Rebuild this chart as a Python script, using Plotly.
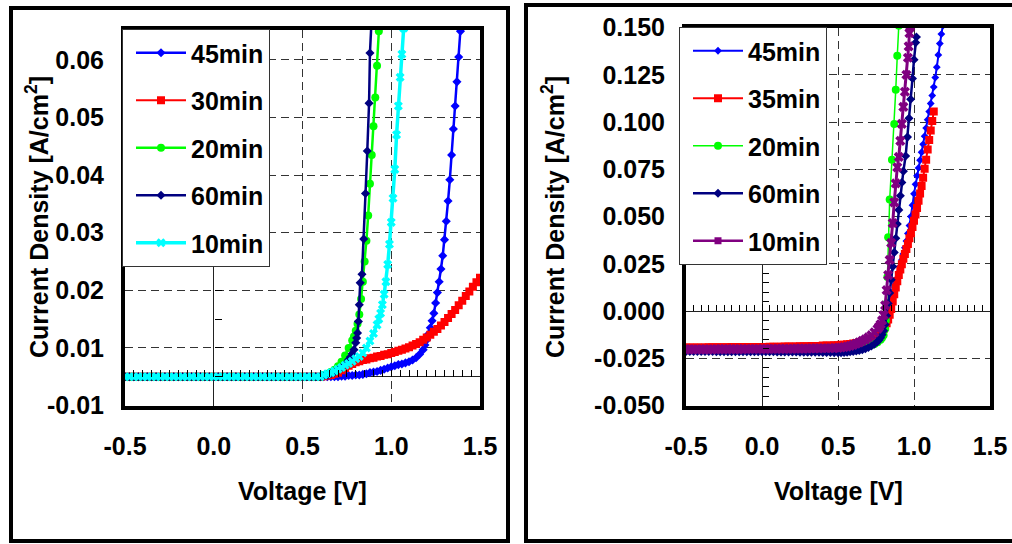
import plotly.graph_objects as go

W, H = 1012, 544

# ---------------- LEFT chart data (Voltage [V], Current density [A/cm2]) ----------------
V_FLAT_L = [-0.500, -0.475, -0.450, -0.425, -0.400, -0.375, -0.350, -0.325, -0.300, -0.275,
            -0.250, -0.225, -0.200, -0.175, -0.150, -0.125, -0.100, -0.075, -0.050, -0.025,
            0.000, 0.025, 0.050, 0.075, 0.100, 0.125, 0.150, 0.175, 0.200, 0.225,
            0.250, 0.275, 0.300, 0.325, 0.350, 0.375, 0.400, 0.425, 0.450, 0.475,
            0.500, 0.525, 0.550, 0.575, 0.600]
J_FLAT_L = [0.0, 0.0, 0.0, 0.0, 0.0, 0.0, 0.0, 0.0, 0.0, 0.0,
            0.0, 0.0, 0.0, 0.0, 0.0, 0.0, 0.0, 0.0, 0.0, 0.0,
            0.0, 0.0, 0.0, 0.0, 0.0, 0.0, 0.0, 0.0, 0.0, 0.0,
            0.0, 0.0, 0.0, 0.0, 0.0, 0.0, 0.0, 0.0, 0.0, 0.0,
            0.0, 0.0, 0.0, 0.0, 0.0]

L45_V = [0.62, 0.64, 0.66, 0.68, 0.70, 0.72, 0.74, 0.76, 0.78, 0.80,
         0.82, 0.84, 0.86, 0.88, 0.90, 0.92, 0.94, 0.96, 0.98, 1.00,
         1.02, 1.04, 1.06, 1.08, 1.10, 1.12, 1.14, 1.16, 1.18,
         1.19, 1.20, 1.21, 1.22, 1.23, 1.24, 1.25, 1.26, 1.27, 1.28,
         1.29, 1.30, 1.31, 1.32, 1.33, 1.34, 1.35, 1.36, 1.37, 1.38, 1.39, 1.395]
L45_J = [0.0000, 0.0000, 0.0000, 0.0000, 0.0000, 0.0001, 0.0001, 0.0002, 0.0002, 0.0003,
         0.0003, 0.0004, 0.0005, 0.0007, 0.0008, 0.0009, 0.0011, 0.0013, 0.0015, 0.0017,
         0.0019, 0.0021, 0.0022, 0.0024, 0.0026, 0.0029, 0.0033, 0.0039, 0.0047,
         0.0055, 0.0064, 0.0074, 0.0085, 0.0097, 0.0110, 0.0128, 0.0146, 0.0165, 0.0187,
         0.0210, 0.0238, 0.0270, 0.0305, 0.0342, 0.0385, 0.0430, 0.0470, 0.0512, 0.0555, 0.0600, 0.0625]

L30_V = [0.62, 0.64, 0.66, 0.68, 0.70, 0.72, 0.74, 0.76, 0.78, 0.80,
         0.82, 0.84, 0.86, 0.88, 0.90, 0.92, 0.94, 0.96, 0.98, 1.00,
         1.02, 1.04, 1.06, 1.08, 1.10, 1.12, 1.14, 1.16, 1.18, 1.20,
         1.22, 1.24, 1.26, 1.28, 1.30, 1.32, 1.34, 1.36, 1.38, 1.40,
         1.42, 1.44, 1.46, 1.48, 1.50]
L30_J = [0.0001, 0.0002, 0.0003, 0.0005, 0.0007, 0.0011, 0.0015, 0.0019, 0.0022, 0.0025,
         0.0027, 0.0029, 0.0030, 0.0032, 0.0033, 0.0035, 0.0036, 0.0038, 0.0039, 0.0041,
         0.0043, 0.0045, 0.0047, 0.0049, 0.0051, 0.0054, 0.0057, 0.0060, 0.0064, 0.0068,
         0.0073, 0.0078, 0.0083, 0.0089, 0.0095, 0.0102, 0.0109, 0.0116, 0.0124, 0.0132,
         0.0140, 0.0148, 0.0156, 0.0164, 0.0172]

L20_V = [0.62, 0.64, 0.66, 0.68, 0.70, 0.72, 0.74, 0.76, 0.78, 0.79,
         0.80, 0.81, 0.82, 0.83, 0.84, 0.85, 0.86, 0.87, 0.88, 0.89,
         0.90, 0.91, 0.92, 0.93, 0.935]
L20_J = [0.0003, 0.0005, 0.0008, 0.0012, 0.0018, 0.0026, 0.0037, 0.0050, 0.0063, 0.0070,
         0.0080, 0.0092, 0.0108, 0.0135, 0.0165, 0.0200, 0.0236, 0.0280, 0.0335, 0.0385,
         0.0435, 0.0485, 0.0540, 0.0600, 0.0625]

L60_V = [0.62, 0.64, 0.66, 0.68, 0.70, 0.72, 0.74, 0.76, 0.77, 0.78,
         0.79, 0.80, 0.805, 0.81, 0.815, 0.82, 0.825, 0.835, 0.845, 0.855,
         0.865, 0.875, 0.88, 0.89]
L60_J = [0.0002, 0.0003, 0.0005, 0.0008, 0.0012, 0.0016, 0.0022, 0.0030, 0.0034, 0.0040,
         0.0047, 0.0059, 0.0067, 0.0076, 0.0096, 0.0125, 0.0163, 0.0178, 0.0239, 0.0318,
         0.0392, 0.0475, 0.0562, 0.0625]

L10_V = [0.62, 0.64, 0.66, 0.68, 0.70, 0.72, 0.74, 0.76, 0.78, 0.80,
         0.82, 0.84, 0.86, 0.88, 0.90, 0.92, 0.93, 0.94, 0.95, 0.96,
         0.97, 0.98, 0.99, 1.00, 1.01, 1.02, 1.03, 1.04, 1.05, 1.06, 1.07]
L10_J = [0.0003, 0.0005, 0.0007, 0.0010, 0.0013, 0.0016, 0.0020, 0.0023, 0.0027, 0.0031,
         0.0035, 0.0041, 0.0050, 0.0062, 0.0075, 0.0090, 0.0100, 0.0110, 0.0125, 0.0143,
         0.0165, 0.0195, 0.0230, 0.0268, 0.0310, 0.0360, 0.0420, 0.0470, 0.0520, 0.0560, 0.0605]

# ---------------- RIGHT chart data ----------------
V_FLAT_R = [-0.500, -0.475, -0.450, -0.425, -0.400, -0.375, -0.350, -0.325, -0.300, -0.275,
            -0.250, -0.225, -0.200, -0.175, -0.150, -0.125, -0.100, -0.075, -0.050, -0.025,
            0.000, 0.025, 0.050, 0.075, 0.100, 0.125, 0.150, 0.175, 0.200, 0.225,
            0.250, 0.275, 0.300, 0.325, 0.350, 0.375, 0.400, 0.425, 0.450, 0.475, 0.500]

R45_JF = [-0.0212, -0.0212, -0.0212, -0.0212, -0.0212, -0.0212, -0.0212, -0.0212, -0.0212, -0.0212,
          -0.0213, -0.0213, -0.0213, -0.0213, -0.0213, -0.0213, -0.0213, -0.0213, -0.0213, -0.0213,
          -0.0214, -0.0214, -0.0214, -0.0214, -0.0214, -0.0214, -0.0214, -0.0214, -0.0214, -0.0214,
          -0.0215, -0.0215, -0.0215, -0.0215, -0.0215, -0.0215,
          -0.0216, -0.0216, -0.0216, -0.0216, -0.0216]
R45_V = [0.52, 0.54, 0.56, 0.58, 0.60, 0.62, 0.64, 0.66, 0.68, 0.70, 0.72, 0.74, 0.76,
         0.77, 0.78, 0.79, 0.80, 0.81, 0.82, 0.83, 0.84, 0.85, 0.86,
         0.87, 0.88, 0.89, 0.90, 0.91, 0.92, 0.93, 0.94, 0.95, 0.96,
         0.97, 0.98, 0.99, 1.00, 1.01, 1.02, 1.03, 1.04, 1.05, 1.06,
         1.07, 1.08, 1.09, 1.10, 1.11, 1.12, 1.13, 1.14, 1.15, 1.16,
         1.17, 1.18, 1.19]
R45_J = [-0.0216, -0.0215, -0.0213, -0.0211, -0.0208, -0.0205, -0.0202, -0.0198, -0.0193, -0.0187, -0.0179, -0.0168, -0.0155,
         -0.0146, -0.0134, -0.0120, -0.0100, -0.0075, -0.0045, -0.0015, 0.0015, 0.0045, 0.0078,
         0.0110, 0.0144, 0.0175, 0.0205, 0.0237, 0.0270, 0.0302, 0.0335, 0.0370, 0.0410,
         0.0452, 0.0500, 0.0560, 0.0620, 0.0670, 0.0715, 0.0757, 0.0798, 0.0840, 0.0882,
         0.0925, 0.0968, 0.1012, 0.1055, 0.1098, 0.1140, 0.1185, 0.1235, 0.1290, 0.1355,
         0.1415, 0.1465, 0.1510]

R35_JF = [-0.0193, -0.0193, -0.0193, -0.0193, -0.0193, -0.0193,
          -0.0192, -0.0192, -0.0192, -0.0192, -0.0192, -0.0192,
          -0.0191, -0.0191, -0.0191, -0.0191, -0.0191,
          -0.0190, -0.0190, -0.0190, -0.0190, -0.0190,
          -0.0189, -0.0189, -0.0189, -0.0189,
          -0.0188, -0.0188, -0.0188, -0.0188,
          -0.0187, -0.0187, -0.0187,
          -0.0185, -0.0185, -0.0185,
          -0.0183, -0.0183, -0.0183,
          -0.0181, -0.0181]
R35_V = [0.52, 0.54, 0.56, 0.58, 0.60, 0.62, 0.64, 0.66, 0.68, 0.70, 0.72, 0.74, 0.76,
         0.77, 0.78, 0.79, 0.80, 0.81, 0.82, 0.83, 0.84, 0.85, 0.86,
         0.87, 0.88, 0.89, 0.90, 0.91, 0.92, 0.93, 0.94, 0.95, 0.96,
         0.97, 0.98, 0.99, 1.00, 1.01, 1.02, 1.03, 1.04, 1.05, 1.06,
         1.07, 1.08, 1.09, 1.10, 1.11, 1.12, 1.13]
R35_J = [-0.0179, -0.0178, -0.0176, -0.0174, -0.0172, -0.0169, -0.0166, -0.0162, -0.0157, -0.0152, -0.0145, -0.0138, -0.0129,
         -0.0123, -0.0115, -0.0106, -0.0095, -0.0082, -0.0065, -0.0045, -0.0020, 0.0010, 0.0050,
         0.0088, 0.0125, 0.0158, 0.0190, 0.0220, 0.0248, 0.0276, 0.0302, 0.0328, 0.0355,
         0.0385, 0.0412, 0.0445, 0.0478, 0.0510, 0.0545, 0.0583, 0.0622, 0.0662, 0.0705,
         0.0752, 0.0800, 0.0855, 0.0905, 0.0955, 0.1005, 0.1055]

R20_JF = [-0.0206, -0.0206, -0.0206, -0.0206, -0.0206, -0.0206, -0.0206, -0.0206, -0.0206, -0.0206,
          -0.0206, -0.0206, -0.0206, -0.0206, -0.0206, -0.0206, -0.0206, -0.0206, -0.0206, -0.0206,
          -0.0205, -0.0205, -0.0205, -0.0205, -0.0205, -0.0205, -0.0205, -0.0205, -0.0205, -0.0205,
          -0.0205, -0.0205, -0.0205, -0.0205, -0.0205, -0.0205, -0.0205, -0.0205, -0.0205, -0.0205,
          -0.0205]
R20_V = [0.52, 0.54, 0.56, 0.58, 0.60, 0.62, 0.64, 0.66, 0.68, 0.70,
         0.72, 0.74, 0.76, 0.78, 0.79, 0.80, 0.81, 0.815, 0.82, 0.825,
         0.83, 0.84, 0.855, 0.87, 0.88, 0.89, 0.90]
R20_J = [-0.0204, -0.0203, -0.0202, -0.0200, -0.0198, -0.0196, -0.0194, -0.0191, -0.0188, -0.0185,
         -0.0180, -0.0175, -0.0166, -0.0152, -0.0142, -0.0128, -0.0095, -0.0050, 0.0040, 0.0180,
         0.0390, 0.0590, 0.0800, 0.0990, 0.1170, 0.1350, 0.1510]

R60_JF = [-0.0214, -0.0214, -0.0214, -0.0214, -0.0214, -0.0214, -0.0214, -0.0214,
          -0.0215, -0.0215, -0.0215, -0.0215, -0.0215, -0.0215, -0.0215, -0.0215,
          -0.0216, -0.0216, -0.0216, -0.0216, -0.0216, -0.0216, -0.0216, -0.0216,
          -0.0217, -0.0217, -0.0217, -0.0217, -0.0217, -0.0217,
          -0.0218, -0.0218, -0.0218, -0.0218, -0.0218, -0.0218,
          -0.0219, -0.0219, -0.0219,
          -0.0220, -0.0220]
R60_V = [0.52, 0.54, 0.56, 0.58, 0.60, 0.62, 0.64, 0.66, 0.68, 0.70, 0.72, 0.74, 0.76,
         0.77, 0.78, 0.79, 0.80, 0.81, 0.82, 0.83, 0.84, 0.85, 0.86,
         0.87, 0.88, 0.89, 0.90, 0.91, 0.92, 0.93, 0.945, 0.957, 0.967,
         0.978, 0.99, 1.00, 1.011, 1.016]
R60_J = [-0.0220, -0.0219, -0.0218, -0.0216, -0.0214, -0.0212, -0.0209, -0.0205, -0.0200, -0.0193, -0.0185, -0.0175, -0.0162,
         -0.0153, -0.0141, -0.0126, -0.0105, -0.0072, -0.0025, 0.0040, 0.0095, 0.0165, 0.0235,
         0.0310, 0.0385, 0.0460, 0.0535, 0.0610, 0.0680, 0.0740, 0.0820, 0.0920, 0.1020,
         0.1120, 0.1230, 0.1330, 0.1420, 0.1450]

R10_JF = [-0.0203, -0.0203, -0.0203, -0.0203, -0.0203, -0.0203, -0.0203, -0.0203,
          -0.0202, -0.0202, -0.0202, -0.0202, -0.0202, -0.0202, -0.0202, -0.0202,
          -0.0201, -0.0201, -0.0201, -0.0201, -0.0201, -0.0201, -0.0201,
          -0.0200, -0.0200, -0.0200, -0.0200, -0.0200, -0.0200,
          -0.0199, -0.0199, -0.0199, -0.0199,
          -0.0198, -0.0198, -0.0198,
          -0.0197, -0.0197,
          -0.0196, -0.0196,
          -0.0195]
R10_V = [0.52, 0.54, 0.56, 0.58, 0.60, 0.62, 0.64, 0.66, 0.68, 0.70, 0.72, 0.74, 0.76,
         0.77, 0.78, 0.79, 0.80, 0.81, 0.82, 0.83, 0.84, 0.85, 0.86,
         0.87, 0.88, 0.89, 0.90, 0.91, 0.92, 0.93, 0.94, 0.95, 0.96,
         0.965, 0.97, 0.975]
R10_J = [-0.0193, -0.0191, -0.0188, -0.0184, -0.0179, -0.0173, -0.0166, -0.0158, -0.0150, -0.0140, -0.0128, -0.0113, -0.0095,
         -0.0084, -0.0070, -0.0050, -0.0022, 0.0030, 0.0110, 0.0190, 0.0270, 0.0360, 0.0465,
         0.0575, 0.0675, 0.0760, 0.0815, 0.0900, 0.0990, 0.1080, 0.1160, 0.1250, 0.1340,
         0.1400, 0.1470, 0.1505]

# ---------------- ticks ----------------
X_TICKS = [-0.5, 0.0, 0.5, 1.0, 1.5]
X_TICKTEXT = ["-0.5", "0.0", "0.5", "1.0", "1.5"]
L_Y_TICKS = [-0.005, 0.005, 0.015, 0.025, 0.035, 0.045, 0.055]
L_Y_TICKTEXT = ["-0.01", "0.01", "0.02", "0.03", "0.04", "0.05", "0.06"]
R_Y_TICKS = [-0.05, -0.025, 0.0, 0.025, 0.05, 0.075, 0.10, 0.125, 0.15]
R_Y_TICKTEXT = ["-0.050", "-0.025", "0.000", "0.025", "0.050", "0.075", "0.100", "0.125", "0.150"]

LEFT_NAMES = ["45min", "30min", "20min", "60min", "10min"]
RIGHT_NAMES = ["45min", "35min", "20min", "60min", "10min"]

for a, b in [(V_FLAT_L, J_FLAT_L), (L45_V, L45_J), (L30_V, L30_J), (L20_V, L20_J), (L60_V, L60_J),
             (L10_V, L10_J), (V_FLAT_R, R45_JF), (V_FLAT_R, R35_JF), (V_FLAT_R, R20_JF),
             (V_FLAT_R, R60_JF), (V_FLAT_R, R10_JF), (R45_V, R45_J), (R35_V, R35_J),
             (R20_V, R20_J), (R60_V, R60_J), (R10_V, R10_J)]:
    assert len(a) == len(b), (len(a), len(b))

# ---------------- geometry helpers ----------------
def fx(p):
    return p / W


def fy(p):
    return 1 - p / H


L_XDOM = [fx(125), fx(480)]
L_YDOM = [fy(405.5), fy(30)]
R_XDOM = [fx(686), fx(990)]
R_YDOM = [fy(405.5), fy(27.5)]
L_XR = [-0.5, 1.5]
L_YR = [-0.005, 0.0602]
R_XR = [-0.5, 1.5]
R_YR = [-0.05, 0.15]


def ypos(dom, rng, v):
    return dom[0] + (v - rng[0]) / (rng[1] - rng[0]) * (dom[1] - dom[0])


FONT_FAMILY = "Liberation Sans, Arial, sans-serif"
FS = 25
BOLD = dict(family=FONT_FAMILY, size=FS, color="black", weight="bold")

fig = go.Figure()


def add(xs, ys, name, color, symbol, msize, lw, xa, ya, legend, group, showlegend=True):
    fig.add_trace(go.Scatter(
        x=xs, y=ys, mode="lines+markers", name=name,
        line=dict(color=color, width=lw),
        marker=dict(symbol=symbol, size=msize, color=color, line=dict(width=0)),
        xaxis=xa, yaxis=ya, legend=legend, legendgroup=group,
        showlegend=showlegend, hoverinfo="skip"))


# left traces
add(V_FLAT_L + L45_V, J_FLAT_L + L45_J, LEFT_NAMES[0], "#0000FF", "diamond", 7, 2.5, "x", "y", "legend", "l1")
add(V_FLAT_L + L30_V, J_FLAT_L + L30_J, LEFT_NAMES[1], "#FF0000", "square", 8, 2, "x", "y", "legend", "l2")
add(V_FLAT_L + L20_V, J_FLAT_L + L20_J, LEFT_NAMES[2], "#00FF00", "circle", 8, 2.5, "x", "y", "legend", "l3")
add(V_FLAT_L + L60_V, J_FLAT_L + L60_J, LEFT_NAMES[3], "#000080", "diamond", 7, 2.5, "x", "y", "legend", "l4")
add(V_FLAT_L + L10_V, J_FLAT_L + L10_J, LEFT_NAMES[4], "#00FFFF", "x", 8, 3.5, "x", "y", "legend", "l5")

# right traces
add(V_FLAT_R + R45_V, R45_JF + R45_J, RIGHT_NAMES[0], "#0000FF", "diamond", 6, 2, "x2", "y2", "legend2", "r1")
add(V_FLAT_R + R35_V, R35_JF + R35_J, RIGHT_NAMES[1], "#FF0000", "square", 8, 2, "x2", "y2", "legend2", "r2")
add(V_FLAT_R + R20_V, R20_JF + R20_J, RIGHT_NAMES[2], "#00FF00", "circle", 8, 1.5, "x2", "y2", "legend2", "r3")
add(V_FLAT_R + R60_V, R60_JF + R60_J, RIGHT_NAMES[3], "#000080", "diamond", 7, 2.5, "x2", "y2", "legend2", "r4")
add(V_FLAT_R + R10_V, R10_JF + R10_J, RIGHT_NAMES[4], "#800080", "x", 9, 3, "x2", "y2", "legend2", "r5",
    showlegend=False)
# legend entry for 10min (square marker in the legend)
fig.add_trace(go.Scatter(x=[None], y=[None], mode="lines+markers", name=RIGHT_NAMES[4],
                         line=dict(color="#800080", width=2.5),
                         marker=dict(symbol="square", size=7, color="#800080"),
                         xaxis="x2", yaxis="y2", legend="legend2", legendgroup="r5"))

# empty traces that register the crossing-axis overlays
for xa, ya in [("x3", "y"), ("x", "y3"), ("x4", "y2"), ("x2", "y4")]:
    fig.add_trace(go.Scatter(x=[None], y=[None], xaxis=xa, yaxis=ya, showlegend=False,
                             hoverinfo="skip", mode="markers"))

main_axis = dict(showline=True, linewidth=4, linecolor="black", mirror=True, ticks="",
                 showgrid=True, gridcolor="#333333", gridwidth=1, griddash="8px,5px",
                 zeroline=True, zerolinecolor="#222222", zerolinewidth=1,
                 tickfont=BOLD, automargin=False, fixedrange=True)


def over_axis(**kw):
    d = dict(anchor="free", ticks="inside", ticklen=7, tickwidth=1, tickcolor="black",
             showticklabels=False, showgrid=False, zeroline=False, showline=False,
             automargin=False, fixedrange=True)
    d.update(kw)
    return d


fig.update_layout(
    width=W, height=H, template="none",
    margin=dict(l=0, r=0, t=0, b=0),
    paper_bgcolor="white", plot_bgcolor="white",
    font=dict(family=FONT_FAMILY, size=FS, color="black"),
    xaxis=dict(main_axis, domain=L_XDOM, range=L_XR, anchor="y", tickvals=X_TICKS,
               ticktext=X_TICKTEXT, ticklabelstandoff=15),
    yaxis=dict(main_axis, domain=L_YDOM, range=L_YR, anchor="x", tickvals=L_Y_TICKS,
               ticktext=L_Y_TICKTEXT, ticklabelstandoff=12),
    xaxis2=dict(main_axis, domain=R_XDOM, range=R_XR, anchor="y2", tickvals=X_TICKS,
                ticktext=X_TICKTEXT, ticklabelstandoff=15),
    yaxis2=dict(main_axis, domain=R_YDOM, range=R_YR, anchor="x2", tickvals=R_Y_TICKS,
                ticktext=R_Y_TICKTEXT, ticklabelstandoff=12),
    xaxis3=over_axis(overlaying="x", range=L_XR, position=ypos(L_YDOM, L_YR, 0.0),
                     tick0=0, dtick=0.5,
                     minor=dict(ticks="inside", ticklen=7, dtick=0.05, tickcolor="black", tickwidth=1)),
    yaxis3=over_axis(overlaying="y", range=L_YR, side="left",
                     position=ypos(L_XDOM, L_XR, 0.0), tick0=-0.005, dtick=0.01,
                     minor=dict(ticks="inside", ticklen=7, dtick=0.005, tickcolor="black", tickwidth=1)),
    xaxis4=over_axis(overlaying="x2", range=R_XR, position=ypos(R_YDOM, R_YR, 0.0),
                     tick0=0, dtick=0.5,
                     minor=dict(ticks="inside", ticklen=6, dtick=0.05, tickcolor="black", tickwidth=1)),
    yaxis4=over_axis(overlaying="y2", range=R_YR, side="left",
                     position=ypos(R_XDOM, R_XR, 0.0), tick0=0, dtick=0.025,
                     minor=dict(ticks="inside", ticklen=6, dtick=0.005, tickcolor="black", tickwidth=1)),
    legend=dict(x=fx(122), y=fy(29), xanchor="left", yanchor="top", bgcolor="white",
                bordercolor="#333333", borderwidth=1, font=BOLD, tracegroupgap=12,
                traceorder="grouped", itemwidth=50, indentation=8),
    legend2=dict(x=fx(679), y=fy(27), xanchor="left", yanchor="top", bgcolor="white",
                 bordercolor="#333333", borderwidth=1, font=BOLD, tracegroupgap=12,
                 traceorder="grouped", itemwidth=50, indentation=8),
    showlegend=True,
)

# axis titles
for cx in [(L_XDOM[0] + L_XDOM[1]) / 2, (R_XDOM[0] + R_XDOM[1]) / 2]:
    fig.add_annotation(text="Voltage [V]", x=cx, y=fy(491), xref="paper", yref="paper",
                       showarrow=False, xanchor="center", yanchor="middle", font=BOLD)
for cx in [fx(37), fx(553)]:
    fig.add_annotation(text="Current Density [A/cm<sup>2</sup>]", x=cx, y=fy(217),
                       xref="paper", yref="paper", textangle=-90, showarrow=False,
                       xanchor="center", yanchor="middle", font=BOLD)

# outer chart frames
fig.add_shape(type="rect", xref="paper", yref="paper", x0=fx(11), x1=fx(508), y0=fy(541), y1=fy(8),
              line=dict(color="black", width=4), fillcolor="rgba(0,0,0,0)", layer="above")
fig.add_shape(type="rect", xref="paper", yref="paper", x0=fx(526), x1=fx(1020), y0=fy(541), y1=fy(5),
              line=dict(color="black", width=4), fillcolor="rgba(0,0,0,0)", layer="above")

fig.write_html("out.html")
